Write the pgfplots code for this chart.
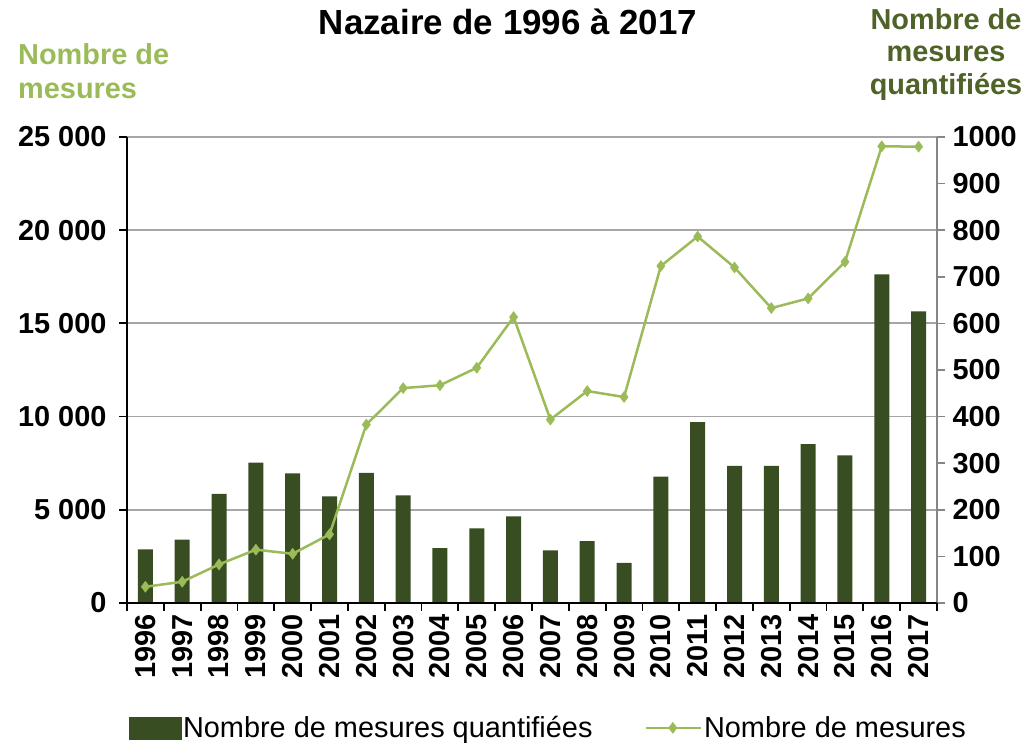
\documentclass[border=0pt]{standalone}
\usepackage{pgfplots}
\pgfplotsset{compat=1.18}
\usepackage{fontspec}
\setmainfont{Liberation Sans}
\definecolor{linegreen}{RGB}{155,187,89}
\definecolor{bargreen}{RGB}{56,78,34}
\definecolor{titlegreen}{RGB}{79,98,40}
\definecolor{gridgray}{RGB}{166,166,166}
\definecolor{axgray}{RGB}{134,134,134}
\newcommand{\bigf}{\fontsize{29}{34}\selectfont}
\pgfplotsset{
  common/.style={
    at={(127bp,141bp)}, anchor=south west, scale only axis,
    width=810bp, height=466bp, xmin=-0.5, xmax=21.5,
    scaled y ticks=false, scaled x ticks=false,
  },
  lineleg/.style={legend image code/.code={\draw[mark repeat=2,mark phase=2,##1] plot coordinates {(0bp,0bp) (27bp,0bp) (55bp,0bp)};}},
  barleg/.style={legend image code/.code={\fill[bargreen] (0bp,-11bp) rectangle (52bp,11bp);}},
}
\begin{document}
\begin{tikzpicture}[x=1bp,y=1bp]
\useasboundingbox (0,0) rectangle (1029,744);
% grid
\begin{axis}[common, ymin=0, ymax=25000,
  ymajorgrids, grid style={line width=1.8bp, gridgray},
  ytick={0,5000,10000,15000,20000,25000}, yticklabels={},
  xtick=\empty, major tick length=0pt, axis line style={draw=none}]
\end{axis}
% bars, right axis
\begin{axis}[common, ymin=0, ymax=1000,
  axis y line*=right, axis x line=none,
  axis line style={line width=1.5bp, axgray},
  ytick={0,100,...,1000},
  yticklabels={0,100,200,300,400,500,600,700,800,900,1000},
  tick align=outside, major tick length=8bp,
  tick style={line width=1.5bp, axgray},
  yticklabel style={font=\bigf\bfseries, black, xshift=4bp},
  ybar, bar width=15bp]
\addplot[fill=bargreen, draw=none] coordinates {
(0,115) (1,136) (2,234) (3,301) (4,278) (5,229) (6,279) (7,231) (8,118) (9,160) (10,186)
(11,113) (12,133) (13,86) (14,271) (15,388) (16,294) (17,294) (18,341) (19,317) (20,705) (21,626)};
\end{axis}
% line, left axis, bottom axis, legend
\begin{axis}[common, ymin=0, ymax=25000,
  axis x line*=bottom, axis y line*=left,
  axis line style={line width=1.8bp, black},
  tick align=outside, major tick length=8bp, minor tick length=8bp,
  tick style={line width=1.8bp, black},
  ytick={0,5000,10000,15000,20000,25000},
  yticklabels={0,5 000,10 000,15 000,20 000,25 000},
  yticklabel style={font=\bigf\bfseries, xshift=-9bp},
  xtick={0,...,21},
  xticklabels={1996,1997,1998,1999,2000,2001,2002,2003,2004,2005,2006,2007,2008,2009,2010,2011,2012,2013,2014,2015,2016,2017},
  major x tick style={draw=none},
  minor xtick={-0.5,0.5,...,21.5},
  xticklabel style={font=\bigf\bfseries, rotate=90, anchor=east},
  legend columns=2,
  legend style={at={(0.52,-0.268)}, anchor=center, draw=none, fill=none,
    font=\bigf, /tikz/every even column/.append style={column sep=50bp}},
  ]
\addlegendimage{barleg}
\addlegendentry{Nombre de mesures quantifiées}
\addplot[color=linegreen, line width=2.5bp, mark=diamond*, mark size=5.5bp,
  mark options={fill=linegreen, draw=linegreen, line width=0.5bp}, lineleg]
coordinates {
(0,870) (1,1140) (2,2070) (3,2860) (4,2640) (5,3680) (6,9570) (7,11530) (8,11680) (9,12620) (10,15340)
(11,9840) (12,11370) (13,11050) (14,18080) (15,19660) (16,18000) (17,15820) (18,16340) (19,18300) (20,24500) (21,24480)};
\addlegendentry{Nombre de mesures}
\end{axis}
\node[anchor=base, font=\fontsize{35}{40}\selectfont\bfseries] at (508,709) {Nazaire de 1996 à 2017};
\node[anchor=base west, font=\bigf\bfseries, text=linegreen, inner sep=0pt] at (18,679) {Nombre de};
\node[anchor=base west, font=\bigf\bfseries, text=linegreen, inner sep=0pt] at (18,645) {mesures};
\node[anchor=base, font=\bigf\bfseries, text=titlegreen, inner sep=0pt] at (946,714) {Nombre de};
\node[anchor=base, font=\bigf\bfseries, text=titlegreen, inner sep=0pt] at (946,682) {mesures};
\node[anchor=base, font=\bigf\bfseries, text=titlegreen, inner sep=0pt] at (946,649) {quantifiées};
\end{tikzpicture}
\end{document}
